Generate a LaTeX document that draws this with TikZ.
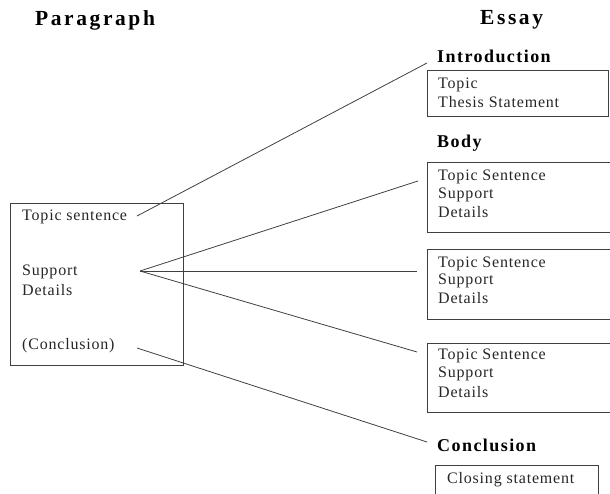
\documentclass[tikz,border=0pt]{standalone}
\usepackage{fontspec}
\setmainfont{Liberation Serif}
\newfontfamily\bodyfont[LetterSpace=5]{Liberation Serif}
\newfontfamily\headfont[LetterSpace=8]{Liberation Serif}
\newfontfamily\titlefont[LetterSpace=12]{Liberation Serif}
\begin{document}
\begin{tikzpicture}[x=1pt,y=-1pt,
  ln/.style={draw=black!75,line width=0.8pt},
  bx/.style={draw=black!75,line width=1pt},
  txt/.style={anchor=west,inner sep=0pt,font=\bodyfont\fontsize{16}{18}\selectfont,text=black!85},
  hd/.style={anchor=west,inner sep=0pt,font=\headfont\bfseries\fontsize{18}{20}\selectfont},
  ttl/.style={anchor=west,inner sep=0pt,font=\titlefont\bfseries\fontsize{21.5}{24}\selectfont}]
\useasboundingbox (0,0) rectangle (610,494);
% titles
\node[ttl] (tpar) at (35,20) {Paragraph};
\node[ttl] (tess) at (480,20) {Essay};
% left box
\draw[bx] (10,204) rectangle (183,365);
\node[txt] (pts) at (22,217) {Topic sentence};
\node[txt] (psup) at (22,272) {Support};
\node[txt] (pdet) at (22,290) {Details};
\node[txt] (pcon) at (22,346) {(Conclusion)};
\coordinate (ats) at (137,216);
\coordinate (asp) at (140,271);
\coordinate (acn) at (137,348);
% introduction
\node[hd] (hint) at (437,56) {Introduction};
\draw[bx] (427,71) rectangle (608,117);
\node[txt] (i1) at (438,85) {Topic};
\node[txt] (i2) at (438,102) {Thesis Statement};
% body
\node[hd] (hbod) at (437,143) {Body};
\draw[bx] (427,163) rectangle (612,233);
\node[txt] (b11) at (438,177) {Topic Sentence};
\node[txt] (b12) at (438,194.5) {Support};
\node[txt] (b13) at (438,212) {Details};
\draw[bx] (427,250) rectangle (612,319);
\node[txt] (b21) at (438,263.5) {Topic Sentence};
\node[txt] (b22) at (438,281) {Support};
\node[txt] (b23) at (438,298.5) {Details};
\draw[bx] (427,343) rectangle (612,412);
\node[txt] (b31) at (438,356) {Topic Sentence};
\node[txt] (b32) at (438,374) {Support};
\node[txt] (b33) at (438,392) {Details};
% conclusion
\node[hd] (hcon) at (437,445) {Conclusion};
\draw[bx] (435,465) rectangle (598,500);
\node[txt] (c1) at (447,480) {Closing statement};
% connectors
\coordinate (eint) at (427,63);
\coordinate (eb1) at (418,181);
\coordinate (eb2) at (417,271);
\coordinate (eb3) at (417,352);
\coordinate (econ) at (427,442);
\draw[ln] (ats) -- (eint);
\draw[ln] (asp) -- (eb1);
\draw[ln] (asp) -- (eb2);
\draw[ln] (asp) -- (eb3);
\draw[ln] (acn) -- (econ);
\end{tikzpicture}
\end{document}
